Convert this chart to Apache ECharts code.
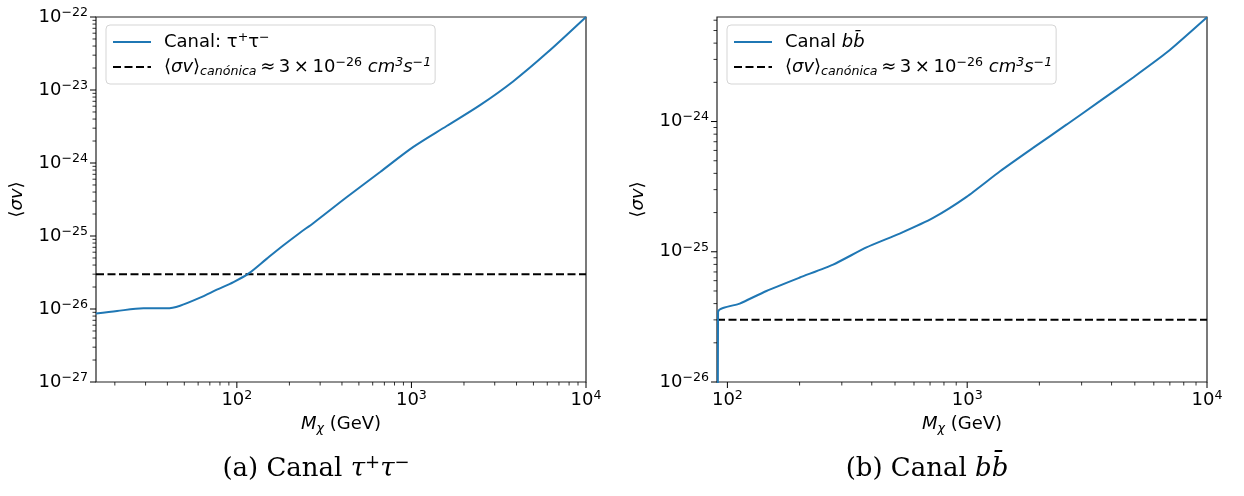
<!DOCTYPE html>
<html><head><meta charset="utf-8">
<script src="https://cdn.jsdelivr.net/npm/echarts@6.0.0/dist/echarts.min.js"></script>
<style>html,body{margin:0;padding:0;background:#fff}#c{width:1244px;height:496px}</style>
</head><body><div id="c"></div>
<script>
// ---------- data ----------
const massTau  = [15.6, 20.6, 29.2, 39.7, 47.3, 61.6, 76.8, 95.7, 116.5, 148.6, 185, 230, 275, 427, 662, 1026, 1592, 2472, 3838, 5957, 10000];
const sigmaTau = [8.65e-27, 9.4e-27, 1.02e-26, 1.02e-26, 1.11e-26, 1.43e-26, 1.84e-26, 2.34e-26, 3.05e-26, 4.9e-26, 7.46e-26, 1.11e-25, 1.51e-25, 3.42e-25, 7.53e-25, 1.66e-24, 3.21e-24, 6.2e-24, 1.32e-23, 3.2e-23, 1e-22];
const massBb   = [90.6, 91.4, 112.6, 145.5, 200.4, 276, 380, 523, 721, 994, 1371, 1888, 2602, 3586, 4940, 6808, 10000];
const sigmaBb  = [1e-30, 3.45e-26, 4.0e-26, 5.0e-26, 6.34e-26, 7.97e-26, 1.08e-25, 1.38e-25, 1.82e-25, 2.64e-25, 4.15e-25, 6.3e-25, 9.5e-25, 1.44e-24, 2.19e-24, 3.4e-24, 6.33e-24];
const sigmaCanon = 3e-26;

// axis limits
const xLimA = [15.6, 10000], yLimA = [1e-27, 1e-22];
const xLimB = [90.5, 10000], yLimB = [1e-26, 6.35e-24];

// tick values and labels
const xMajorA = [100, 1000, 10000];           const xLabelsA = ['10^2', '10^3', '10^4'];
const yMajorA = [1e-27, 1e-26, 1e-25, 1e-24, 1e-23, 1e-22];
const yLabelsA = ['10^−27', '10^−26', '10^−25', '10^−24', '10^−23', '10^−22'];
const xMajorB = [100, 1000, 10000];           const xLabelsB = ['10^2', '10^3', '10^4'];
const yMajorB = [1e-26, 1e-25, 1e-24];        const yLabelsB = ['10^−26', '10^−25', '10^−24'];
const minorMult = [2, 3, 4, 5, 6, 7, 8, 9];

// text
const captionA = '(a) Canal {i|τ}{sup|+}{i|τ}{sup|−}';
const captionB = '(b) Canal {i|b}{i|b̄}';
const canonLabel = '⟨{i|σv}⟩{sub|canónica}\u2009≈\u20093\u2009×\u200910{sup|−26} {i|cm}{supi|3}{i|s}{supi|−1}';
const legendText = {
  tau: 'Canal: τ{sup|+}τ{sup|−}',
  canonA: canonLabel,
  bb: 'Canal {i|bb̄}',
  canonB: canonLabel
};

// ---------- helpers ----------
const FONT = 'DejaVu Sans';
const SERIF = 'DejaVu Serif';
const FS = 18, SFS = 12.6;
const richMath = {
  i:    {fontFamily: FONT, fontSize: FS, fontStyle: 'italic', lineHeight: 22, color: '#000'},
  sup:  {fontFamily: FONT, fontSize: SFS, verticalAlign: 'top', lineHeight: 10, color: '#000'},
  supi: {fontFamily: FONT, fontSize: SFS, fontStyle: 'italic', verticalAlign: 'top', lineHeight: 10, color: '#000'},
  sub:  {fontFamily: FONT, fontSize: SFS, fontStyle: 'italic', verticalAlign: 'bottom', lineHeight: 9, color: '#000'}
};
function fmtPow(s) { const p = s.split('^'); return p[0] + '{sup|' + p[1] + '}'; }
function minorsIn(lim) {
  const out = [];
  const e0 = Math.floor(Math.log10(lim[0])), e1 = Math.ceil(Math.log10(lim[1]));
  for (let e = e0; e <= e1; e++) for (const m of minorMult) {
    const v = m * Math.pow(10, e);
    if (v >= lim[0] * 1.0001 && v <= lim[1] * 0.9999) out.push(v);
  }
  return out;
}
function zip(a, b) { return a.map((v, i) => [v, b[i]]); }

function decor(xLim, yLim, xMaj, xLab, yMaj, yLab) {
  const xMin = minorsIn(xLim), yMin = minorsIn(yLim);
  return function (params, api) {
    const ch = [];
    const ls = {stroke: '#000', lineWidth: 1};
    const textBase = {fill: '#000', fontFamily: FONT, fontSize: FS, lineHeight: 22, rich: richMath};
    xMaj.forEach((v, i) => {
      const p = api.coord([v, yLim[0]]);
      ch.push({type: 'line', shape: {x1: p[0], y1: p[1], x2: p[0], y2: p[1] + 6}, style: ls});
      ch.push({type: 'text', x: p[0], y: p[1] + 7.5, style: Object.assign({text: fmtPow(xLab[i]), align: 'center', verticalAlign: 'top'}, textBase)});
    });
    xMin.forEach(v => {
      const p = api.coord([v, yLim[0]]);
      ch.push({type: 'line', shape: {x1: p[0], y1: p[1], x2: p[0], y2: p[1] + 3.5}, style: {stroke: '#000', lineWidth: 0.8}});
    });
    yMaj.forEach((v, i) => {
      const p = api.coord([xLim[0], v]);
      ch.push({type: 'line', shape: {x1: p[0] - 6, y1: p[1], x2: p[0], y2: p[1]}, style: ls});
      ch.push({type: 'text', x: p[0] - 8, y: p[1], style: Object.assign({text: fmtPow(yLab[i]), align: 'right', verticalAlign: 'middle'}, textBase)});
    });
    yMin.forEach(v => {
      const p = api.coord([xLim[0], v]);
      ch.push({type: 'line', shape: {x1: p[0] - 3.5, y1: p[1], x2: p[0], y2: p[1]}, style: {stroke: '#000', lineWidth: 0.8}});
    });
    return {type: 'group', children: ch};
  };
}

function xAxisDef(idx, lim) {
  return {
    type: 'log', logBase: 10, gridIndex: idx, min: lim[0], max: lim[1],
    axisLine: {show: false}, axisTick: {show: false}, axisLabel: {show: false}, splitLine: {show: false},
    name: '{i|M}{sub|χ} (GeV)', nameLocation: 'middle', nameGap: 31,
    nameTextStyle: {fontFamily: FONT, fontSize: FS, color: '#000', lineHeight: 22, rich: richMath}
  };
}
function yAxisDef(idx, lim) {
  return {
    type: 'log', logBase: 10, gridIndex: idx, min: lim[0], max: lim[1],
    axisLine: {show: false}, axisTick: {show: false}, axisLabel: {show: false}, splitLine: {show: false},
    name: '⟨{i|σv}⟩', nameLocation: 'middle', nameGap: 68, nameRotate: 90,
    nameTextStyle: {fontFamily: FONT, fontSize: FS, color: '#000', lineHeight: 22, rich: richMath}
  };
}
function legendDef(left, names) {
  return {
    data: names, orient: 'vertical', left: left, top: 25, padding: [6, 4, 6, 6],
    itemWidth: 38, itemHeight: 14, itemGap: 3,
    itemStyle: {opacity: 0},
    backgroundColor: 'rgba(255,255,255,0.8)', borderColor: '#d5d5d5', borderWidth: 1, borderRadius: 4,
    formatter: n => legendText[n],
    textStyle: {fontFamily: FONT, fontSize: FS, color: '#000', lineHeight: 22, padding: [0, 0, 0, 8], rich: richMath},
    selectedMode: false
  };
}
const gridBox = {show: true, borderColor: '#222', borderWidth: 1.2, backgroundColor: 'transparent', containLabel: false};
const blue = {color: '#1f77b4', width: 2};
const dash = {color: '#000', width: 2, type: [8, 3.5]};
const captionStyle = {fontFamily: SERIF, fontSize: 26, fontWeight: 'normal', color: '#000', lineHeight: 30,
  rich: {i: {fontFamily: SERIF, fontSize: 26, fontStyle: 'italic', lineHeight: 30},
         sup: {fontFamily: SERIF, fontSize: 18, verticalAlign: 'top', lineHeight: 12}}};

const chart = echarts.init(document.getElementById('c'), null, {renderer: 'canvas'});
chart.setOption({
  animation: false,
  backgroundColor: '#fff',
  title: [
    {text: captionA, left: 316, top: 454, textAlign: 'center', padding: 0, textStyle: captionStyle},
    {text: captionB, left: 927, top: 454, textAlign: 'center', padding: 0, textStyle: captionStyle}
  ],
  grid: [
    Object.assign({left: 96, top: 17, width: 490, height: 365}, gridBox),
    Object.assign({left: 717, top: 17, width: 490, height: 365}, gridBox)
  ],
  xAxis: [xAxisDef(0, xLimA), xAxisDef(1, xLimB)],
  yAxis: [yAxisDef(0, yLimA), yAxisDef(1, yLimB)],
  legend: [legendDef(106, ['tau', 'canonA']), legendDef(727, ['bb', 'canonB'])],
  series: [
    {name: 'tau', type: 'line', xAxisIndex: 0, yAxisIndex: 0, data: zip(massTau, sigmaTau),
     symbol: 'none', smooth: 0.3, lineStyle: blue, itemStyle: {color: '#1f77b4'}, z: 3},
    {name: 'canonA', type: 'line', xAxisIndex: 0, yAxisIndex: 0, data: zip(xLimA, [sigmaCanon, sigmaCanon]),
     symbol: 'none', lineStyle: dash, itemStyle: {color: '#000'}, z: 2},
    {name: 'bb', type: 'line', xAxisIndex: 1, yAxisIndex: 1, data: zip(massBb, sigmaBb),
     symbol: 'none', smooth: 0.2, lineStyle: blue, itemStyle: {color: '#1f77b4'}, z: 3},
    {name: 'canonB', type: 'line', xAxisIndex: 1, yAxisIndex: 1, data: zip(xLimB, [sigmaCanon, sigmaCanon]),
     symbol: 'none', lineStyle: dash, itemStyle: {color: '#000'}, z: 2},
    {type: 'custom', xAxisIndex: 0, yAxisIndex: 0, data: [[xLimA[0], yLimA[0]]], silent: true, z: 5,
     renderItem: decor(xLimA, yLimA, xMajorA, xLabelsA, yMajorA, yLabelsA)},
    {type: 'custom', xAxisIndex: 1, yAxisIndex: 1, data: [[xLimB[0], yLimB[0]]], silent: true, z: 5,
     renderItem: decor(xLimB, yLimB, xMajorB, xLabelsB, yMajorB, yLabelsB)}
  ]
});
</script></body></html>
